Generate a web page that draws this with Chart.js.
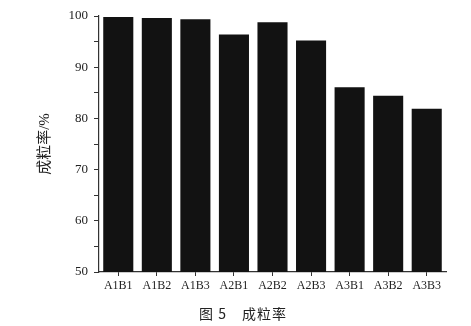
<!DOCTYPE html>
<html>
<head>
<meta charset="utf-8">
<script src="https://cdn.jsdelivr.net/npm/chart.js@4"></script>
<style>
  html, body { margin: 0; padding: 0; background: #fff; }
  #box { position: relative; width: 471px; height: 326px; }
  #legenda {
    position: absolute; left: 0; top: 303px; width: 486px;
    text-align: center; color: #222;
    font: 14px 'Noto Sans CJK SC', 'Liberation Serif', serif;
    letter-spacing: 1px; white-space: pre;
  }
</style>
</head>
<body>
<div id="box">
  <canvas id="grafico"></canvas>
  <div id="legenda">图 5　成粒率</div>
</div>
<script>
/* 成粒率 — 柱状图 */

const CATEGORIAS = ["A1B1", "A1B2", "A1B3", "A2B1", "A2B2", "A2B3", "A3B1", "A3B2", "A3B3"];
const VALORES    = [99.8, 99.6, 99.35, 96.4, 98.8, 95.2, 86.1, 84.4, 81.9];
const Y_MIN = 50, Y_MAX = 100, Y_PASSO = 5;

const COR_BARRA = "#121212";
const COR_EIXO  = "#333";
const FONTE     = "'Liberation Serif', 'Noto Sans CJK SC', serif";

const ctx = document.getElementById("grafico").getContext("2d");
new Chart(ctx, {
  type: "bar",
  data: {
    labels: CATEGORIAS,
    datasets: [{
      data: VALORES,
      backgroundColor: COR_BARRA,
      borderWidth: 0,
      barPercentage: 0.78,
      categoryPercentage: 1,
    }]
  },
  options: {
    responsive: true,
    maintainAspectRatio: false,
    animation: false,
    layout: { padding: { top: 16, right: 25, bottom: 26, left: 0 } },
    plugins: {
      legend: { display: false },
      tooltip: { enabled: false },
    },
    scales: {
      x: {
        offset: true,
        afterFit: s => { s.height = 28; },
        grid: { offset: false, drawOnChartArea: false, tickLength: 4, tickColor: COR_EIXO },
        border: { color: COR_EIXO, width: 1.2 },
        ticks: { color: "#222", padding: 3, font: { family: FONTE, size: 12 }, maxRotation: 0 },
      },
      y: {
        min: Y_MIN,
        max: Y_MAX,
        afterFit: s => { s.width = 99; },
        grid: { drawOnChartArea: false, tickLength: 5, tickColor: COR_EIXO },
        border: { color: COR_EIXO, width: 1.2 },
        ticks: {
          stepSize: Y_PASSO,
          color: "#222",
          padding: 6,
          font: { family: FONTE, size: 13 },
          callback: v => (v % 10 === 0 ? v : ""),
        },
        title: {
          display: true,
          text: "成粒率/%",
          color: "#222",
          font: { family: FONTE, size: 15 },
          padding: { top: 36, bottom: 0 },
        }
      }
    }
  }
});
</script>
</body>
</html>
